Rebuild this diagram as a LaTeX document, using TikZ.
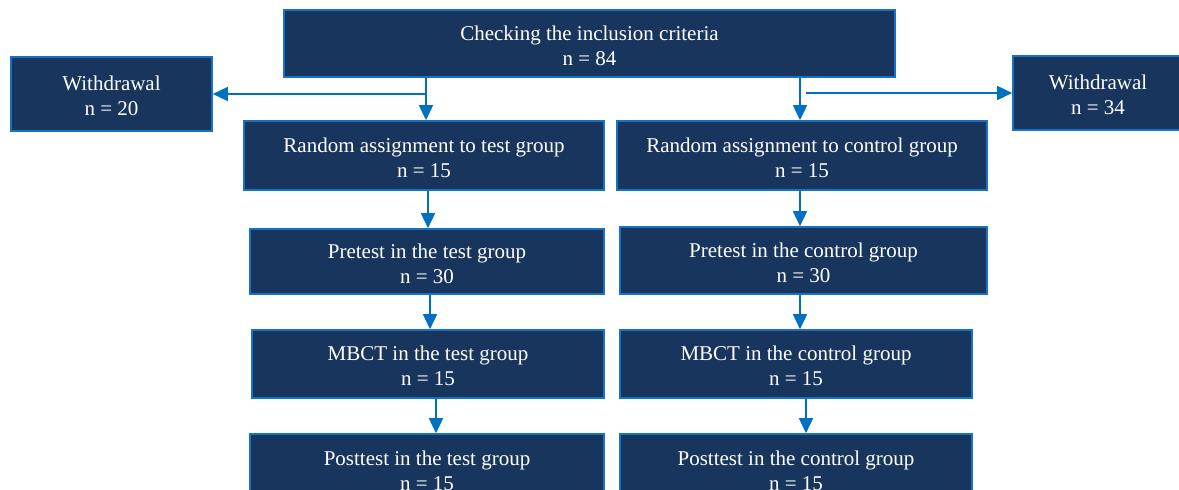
\documentclass[tikz,border=0pt]{standalone}
\usepackage{fontspec}
\setmainfont{Liberation Serif}
\usetikzlibrary{arrows.meta}
\definecolor{boxc}{RGB}{24,54,93}
\definecolor{bordc}{RGB}{22,114,196}
\definecolor{arrc}{RGB}{0,112,192}
\newcommand\toplift{\rule{0pt}{19pt}}
\tikzset{
  box/.style={draw=bordc, fill=boxc, line width=1.6pt, text=white, align=center, inner sep=0pt,
    font=\fontsize{21}{25}\selectfont},
  arr/.style={draw=arrc, line width=1.6pt, -{Triangle[width=14pt,length=15pt]}}
}
\begin{document}
\begin{tikzpicture}[x=1pt,y=-1pt]
\useasboundingbox (0,0) rectangle (1179,490);
\clip (0,0) rectangle (1179,490);
% boxes
\node[box, minimum width=611, minimum height=67] (top) at (589.5,43.5) {\toplift Checking the inclusion criteria\\n = 84};
\node[box, minimum width=201, minimum height=74] (wl) at (111.5,94) {\toplift Withdrawal\\n = 20};
\node[box, minimum width=170, minimum height=74] (wr) at (1098,93) {\toplift Withdrawal\\n = 34};
\node[box, minimum width=360, minimum height=69] (rt) at (424,155.5) {\toplift Random assignment to test group\\n = 15};
\node[box, minimum width=370, minimum height=69] (rc) at (802,155.5) {\toplift Random assignment to control group\\n = 15};
\node[box, minimum width=354, minimum height=65] (pt) at (427,261.5) {\toplift Pretest in the test group\\n = 30};
\node[box, minimum width=367, minimum height=67] (pc) at (803.5,260.5) {\toplift Pretest in the control group\\n = 30};
\node[box, minimum width=352, minimum height=68] (mt) at (428,364) {\toplift MBCT in the test group\\n = 15};
\node[box, minimum width=352, minimum height=68] (mc) at (796,364) {\toplift MBCT in the control group\\n = 15};
\node[box, minimum width=354, minimum height=70] (qt) at (427,469) {\toplift Posttest in the test group\\n = 15};
\node[box, minimum width=352, minimum height=70] (qc) at (796,469) {\toplift Posttest in the control group\\n = 15};
% connectors
\draw[arr] ([xshift=2]top.south -| rt.north) -- ([xshift=2]rt.north);
\draw[arr] ([xshift=2]rt.north |- wl.east) -- (wl.east);
\draw[arr] ([xshift=-2]top.south -| rc.north) -- ([xshift=-2]rc.north);
\draw[arr] ([xshift=4]rc.north |- wr.west) -- (wr.west);
\draw[arr] ([xshift=4]rt.south) -- ([xshift=4]rt.south |- pt.north);
\draw[arr] ([xshift=-2]rc.south) -- ([xshift=-2]rc.south |- pc.north);
\draw[arr] ([xshift=3]pt.south) -- ([xshift=3]pt.south |- mt.north);
\draw[arr] ([xshift=-3.5]pc.south) -- ([xshift=-3.5]pc.south |- mc.north);
\draw[arr] ([xshift=8]mt.south) -- ([xshift=8]mt.south |- qt.north);
\draw[arr] ([xshift=10]mc.south) -- ([xshift=10]mc.south |- qc.north);
\end{tikzpicture}
\end{document}
